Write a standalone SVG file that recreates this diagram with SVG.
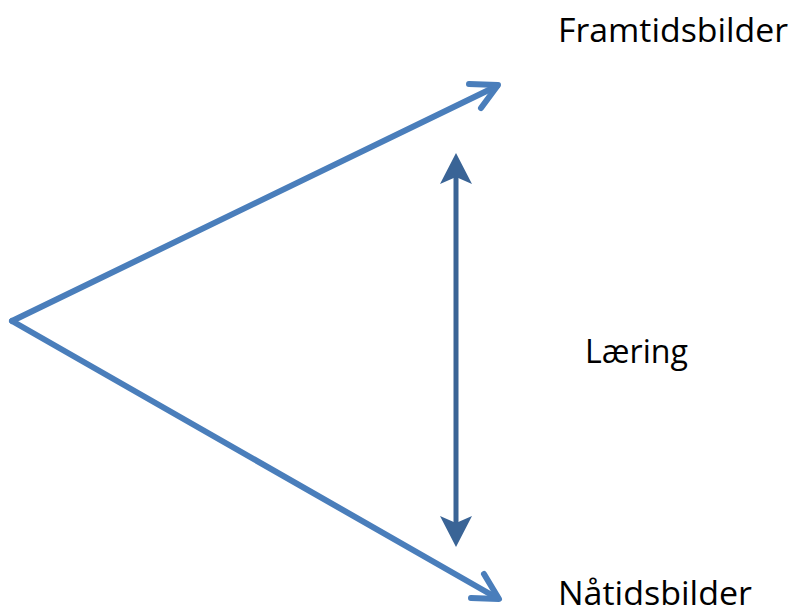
<svg xmlns="http://www.w3.org/2000/svg" width="793" height="614" viewBox="0 0 793 614">
  <style>
    .ray { fill: none; stroke: #4A7EBB; stroke-width: 6; stroke-linecap: round; stroke-linejoin: round; }
    .axis { fill: none; stroke: #3A6496; stroke-width: 5; }
    .head { fill: #3A6496; }
    .label { font-family: "Open Sans", "Liberation Sans", sans-serif; font-size: 32px; fill: #000; }
  </style>
  <rect width="793" height="614" fill="#fff"/>
  <g id="connectors">
    <!-- upper ray with open arrowhead -->
    <path class="ray" d="M12,321 L497,86"/>
    <path class="ray" d="M469,84 L498,85 L481,108"/>
    <!-- lower ray with open arrowhead -->
    <path class="ray" d="M12,321 L497,598"/>
    <path class="ray" d="M484,574 L499,599 L471,598"/>
    <!-- vertical double-headed arrow -->
    <path class="axis" d="M456,176 L456,524"/>
    <path class="head" d="M456,153 L472,184 L456,177 L440,184 Z"/>
    <path class="head" d="M456,547 L472,516 L456,523 L440,516 Z"/>
  </g>
  <g id="framtidsbilder">
    <text class="label" x="558" y="42" textLength="230" lengthAdjust="spacingAndGlyphs">Framtidsbilder</text>
  </g>
  <g id="laering">
    <text class="label" x="585" y="363" textLength="103" lengthAdjust="spacingAndGlyphs">Læring</text>
  </g>
  <g id="naatidsbilder">
    <text class="label" x="558" y="605" textLength="194" lengthAdjust="spacingAndGlyphs">Nåtidsbilder</text>
  </g>
</svg>
